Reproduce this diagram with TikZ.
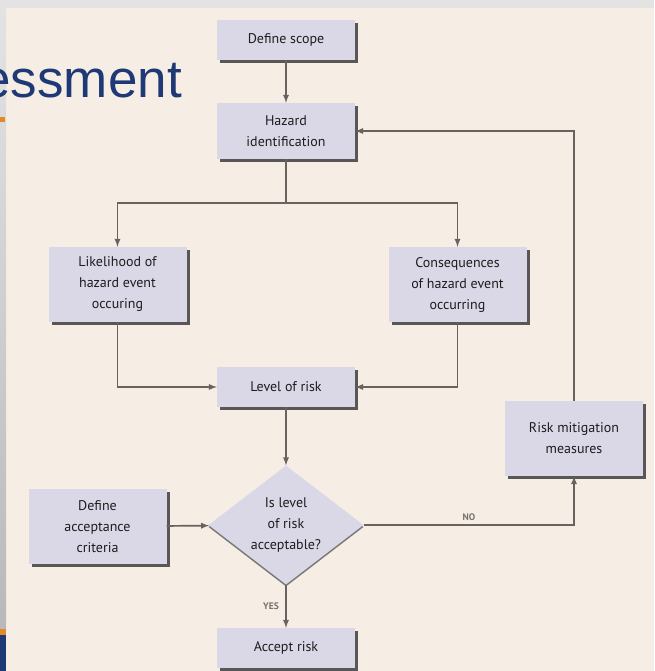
\documentclass[tikz,border=0pt]{standalone}
\usepackage{fontspec}
\setmainfont{PT Sans}
\newfontfamily\slidefont{Liberation Sans}
\usepackage{tikz}
\usetikzlibrary{shapes.geometric}
\usetikzlibrary{shadows}
\tikzset{>=latex}
\definecolor{pagegray}{RGB}{227,227,227}
\definecolor{paper}{RGB}{246,238,229}
\definecolor{boxfill}{RGB}{218,216,230}
\definecolor{boxshade}{RGB}{88,86,86}
\definecolor{linegray}{RGB}{104,99,95}
\definecolor{boxtext}{RGB}{30,28,30}
\definecolor{slideblue}{RGB}{31,56,118}
\definecolor{slideorange}{RGB}{224,138,44}

\begin{document}
\begin{tikzpicture}[x=1pt,y=-1pt,
  flowbox/.style={rectangle,fill=boxfill,text=boxtext,minimum width=138pt,inner sep=2pt,align=center,
    font=\fontsize{14}{21}\selectfont,
    drop shadow={shadow xshift=3pt,shadow yshift=-3pt,fill=boxshade,opacity=1}},
  decision/.style={diamond,aspect=1.3,fill=boxfill,text=boxtext,minimum width=155pt,minimum height=119pt,inner sep=0pt,align=center,
    font=\fontsize{14}{21}\selectfont,
    drop shadow={shadow xshift=0pt,shadow yshift=-2pt,fill=boxshade!80,opacity=1}},
  link/.style={draw=linegray,line width=1.7pt},
  answer/.style={font=\fontsize{9.5}{11}\selectfont\bfseries,text=linegray!90}]

	\useasboundingbox (0,0) rectangle (654,671);
	% slide behind the chart
	\fill[pagegray] (0,0) rectangle (654,671);
	\fill[paper] (6,8) rectangle (654,671);
	\shade[top color=pagegray,bottom color=gray!55] (0,8) rectangle (6,629);
	\fill[slideorange] (0,629) rectangle (6,635);
	\fill[slideblue] (0,635) rectangle (6,671);
	\fill[slideorange] (0,117) rectangle (5,122);
	\begin{scope}
		\clip (0,0) rectangle (654,671);
		\node[anchor=base east,inner sep=0pt,text=slideblue,font=\slidefont\fontsize{53}{60}\selectfont] (title) at (182,98) {essment};
	\end{scope}

	% chart
	\node[flowbox,minimum height=40pt] (scope) at (286,40) {Define scope};
	\node[flowbox,minimum height=56pt] (hazard) at (286,131) {Hazard\\identification};
	\node[flowbox,minimum height=75pt] (likely) at (117.5,284.5) {Likelihood of\\hazard event\\occuring};
	\node[flowbox,minimum height=75pt] (conseq) at (457.5,284.5) {Consequences\\of hazard event\\occurring};
	\node[flowbox,minimum height=40pt] (level) at (286,387) {Level of risk};
	\node[decision] (accept?) at (286,525) {Is level\\of risk\\acceptable?};
	\node[flowbox,minimum height=75pt] (criteria) at (97.5,526.5) {Define\\acceptance\\criteria};
	\node[flowbox,minimum height=75pt] (mitigate) at (574,438.5) {Risk mitigation\\measures};
	\node[flowbox,minimum height=40pt] (acceptrisk) at (286,648) {Accept risk};
	\coordinate (split) at (286,203);

	\draw[link,->] (scope) -- (hazard);
	\draw[link] (hazard) -- (split);
	\draw[link,->] (split) -| (likely);
	\draw[link,->] (split) -| (conseq);
	\draw[link,->] (likely) |- (level);
	\draw[link,->] (conseq) |- (level);
	\draw[link,->] (level) -- (accept?);
	\draw[link,->] (criteria) -- (accept?);
	\draw[link,->] (accept?) -| node[answer,above,pos=0.25] {NO} (mitigate);
	\draw[link,->] (accept?) -- node[answer,left,xshift=-3pt] {YES} (acceptrisk);
	\draw[link,->] (mitigate) |- (hazard);
\end{tikzpicture}
\end{document}
